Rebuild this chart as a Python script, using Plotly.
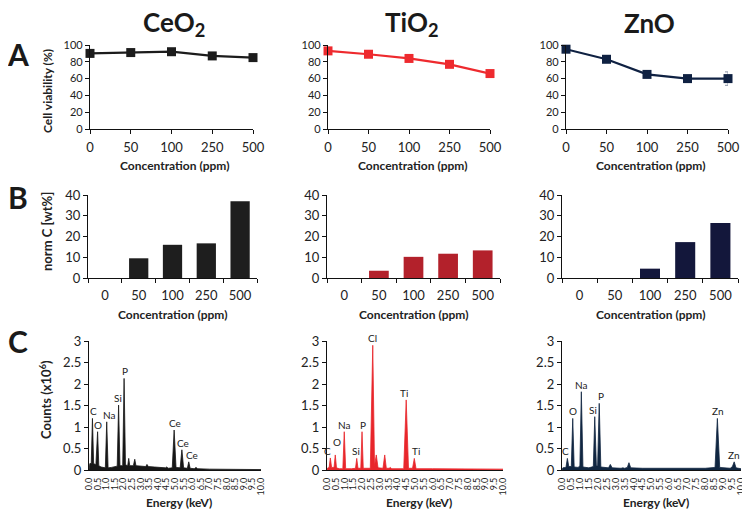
import plotly.graph_objects as go

# The page body has an 8px default margin, so the figure is sized to the remaining area
PAGE_W, PAGE_H, OFF = 750, 513, 8
W, H = PAGE_W - OFF, PAGE_H - OFF
FONT = "Lato"

# ---------------- data ----------------
concentrations = ["0", "50", "100", "250", "500"]
material_titles = ["CeO<sub>2</sub>", "TiO<sub>2</sub>", "ZnO"]

viability_ceo2 = [90, 91, 92, 87, 85]
viability_tio2 = [93, 89, 84, 77, 66]
viability_zno = [95, 83, 65, 60, 60]
viability_err_ceo2 = [4, 2, 2, 2, 2]
viability_err_tio2 = [2, 2, 2, 2, 2]
viability_err_zno = [3, 2, 3, 2, 8]

norm_c_ceo2 = [0, 9.5, 16, 16.7, 37]
norm_c_tio2 = [0, 3.5, 10.2, 11.7, 13.3]
norm_c_zno = [0, 0, 4.5, 17.3, 26.5]

viability_ticks = [0, 20, 40, 60, 80, 100]
normc_ticks = [0, 10, 20, 30, 40]
energy_tick_labels = ["0.0", "0.5", "1.0", "1.5", "2.0", "2.5", "3.0", "3.5", "4.0", "4.5",
                      "5.0", "5.5", "6.0", "6.5", "7.0", "7.5", "8.0", "8.5", "9.0", "9.5", "10.0"]
counts_tick_labels = ["0", "0.5", "1", "1.5", "2", "2.5", "3"]

eds_energy_ceo2 = [0.0, 0.05, 0.13, 0.2, 0.27, 0.4, 0.5, 0.57, 0.7, 0.95, 1.03, 1.11, 1.3, 1.64,
                   1.72, 1.8, 1.96, 2.04, 2.12, 2.25, 2.31, 2.37, 2.58, 2.66, 2.73, 3.0, 3.3, 3.37,
                   3.45, 3.8, 4.2, 4.45, 4.52, 4.6, 4.84, 4.95, 5.06, 5.3, 5.4, 5.5, 5.72, 5.8, 5.88,
                   6.12, 6.22, 6.32, 7.0, 8.0, 9.0, 10.0]
eds_counts_ceo2 = [0.0, 0.15, 0.15, 1.2, 0.15, 0.12, 0.89, 0.1, 0.07, 0.05, 1.12, 0.05, 0.06, 0.09,
                   1.51, 0.1, 0.1, 2.13, 0.12, 0.1, 0.27, 0.1, 0.1, 0.25, 0.1, 0.09, 0.08, 0.13,
                   0.08, 0.07, 0.06, 0.05, 0.07, 0.04, 0.05, 0.93, 0.06, 0.05, 0.47, 0.05, 0.04, 0.19,
                   0.04, 0.03, 0.06, 0.03, 0.02, 0.015, 0.015, 0.01]

eds_energy_tio2 = [0.0, 0.05, 0.12, 0.19, 0.26, 0.4, 0.47, 0.54, 0.7, 0.9, 0.98, 1.06, 1.4, 1.62,
                   1.69, 1.76, 1.92, 1.99, 2.06, 2.46, 2.6, 2.7, 2.8, 2.9, 3.18, 3.28, 3.37, 3.53,
                   3.6, 3.68, 4.36, 4.5, 4.63, 4.86, 4.96, 5.06, 6.0, 8.0, 10.0]
eds_counts_tio2 = [0.0, 0.05, 0.05, 0.28, 0.06, 0.06, 0.35, 0.05, 0.03, 0.03, 0.89, 0.03, 0.03, 0.04,
                   0.27, 0.04, 0.04, 0.89, 0.04, 0.04, 2.9, 0.1, 0.35, 0.05, 0.04, 0.35, 0.04, 0.04,
                   0.06, 0.03, 0.03, 1.63, 0.04, 0.04, 0.27, 0.03, 0.03, 0.025, 0.02]

eds_energy_zno = [0.0, 0.05, 0.22, 0.3, 0.38, 0.52, 0.6, 0.68, 0.9, 1.0, 1.08, 1.17, 1.5, 1.75,
                  1.83, 1.92, 1.99, 2.08, 2.17, 2.6, 2.7, 2.8, 3.3, 3.4, 3.5, 3.65, 3.74, 3.84,
                  4.5, 6.0, 8.0, 8.55, 8.68, 8.81, 9.4, 9.52, 9.62, 9.72, 10.0]
eds_counts_zno = [0.0, 0.05, 0.06, 0.27, 0.08, 0.08, 1.2, 0.07, 0.06, 0.1, 1.82, 0.07, 0.05, 0.08,
                  1.24, 0.1, 0.1, 1.55, 0.07, 0.05, 0.13, 0.05, 0.04, 0.05, 0.04, 0.06, 0.17, 0.05,
                  0.04, 0.04, 0.04, 0.06, 1.2, 0.06, 0.04, 0.08, 0.19, 0.05, 0.03]

peak_labels_ceo2 = ["C", "O", "Na", "Si", "P", "Ce", "Ce", "Ce"]
peak_energy_ceo2 = [0.2, 0.5, 1.03, 1.72, 2.04, 4.95, 5.4, 5.8]
peak_counts_ceo2 = [1.2, 0.89, 1.12, 1.51, 2.13, 0.93, 0.47, 0.19]

peak_labels_tio2 = ["C", "O", "Na", "Si", "P", "Cl", "Ti", "Ti"]
peak_energy_tio2 = [0.19, 0.47, 0.98, 1.69, 1.99, 2.6, 4.5, 4.96]
peak_counts_tio2 = [0.28, 0.35, 0.89, 0.27, 0.89, 2.9, 1.63, 0.27]

peak_labels_zno = ["C", "O", "Na", "Si", "P", "Zn", "Zn"]
peak_energy_zno = [0.3, 0.6, 1.08, 1.83, 2.08, 8.68, 9.62]
peak_counts_zno = [0.27, 1.2, 1.82, 1.24, 1.55, 1.2, 0.19]

# ---------------- styling ----------------
line_colors = ["#1c1c1c", "#ee2a2e", "#0f2142"]
bar_colors = ["#1e1e1e", "#b3212b", "#13173b"]
fill_colors = ["#161616", "#e8262b", "#102641"]
err_colors = ["#555555", "#ee2a2e", "#8a93a6"]

# label nudges in pixels (xshift, yshift) so neighbouring labels do not collide
label_nudge = [
    [(1, 0), (0, 0), (2, 0), (-1, 0), (1, 0), (1, 0), (1, 0), (3, 0)],
    [(-3, 0), (2, 6), (0, 0), (-1, 0), (1, 0), (0, 0), (-2, 0), (2, 0)],
    [(-2, 0), (0, 0), (0, 0), (-2, 0), (2, 0), (0, 0), (-1, 0)],
]

# page-pixel boxes (x0, x1), (ytop, ybottom)
boxA = [(90, 253), (328, 490), (566, 728)]
yA = (45, 129)
boxB = [(88, 257), (327, 500), (562, 738)]
yB = (195, 278)
boxC = [(89, 261), (327, 503), (562, 741)]
yC = (341, 470)


def px(x):
    return (x - OFF) / W


def py(y):
    return 1 - (y - OFF) / H


fig = go.Figure()
layout = {}
ann = []
TXT = "#222222"


def paper_text(text, x, y, size, angle=0, color=TXT):
    ann.append(dict(text=text, x=px(x), y=py(y), xref="paper", yref="paper", showarrow=False,
                    xanchor="center", yanchor="middle", textangle=angle, borderpad=0,
                    font=dict(family=FONT, size=size, color=color)))


AX = dict(showgrid=False, zeroline=False, showline=True, linecolor="#111111", linewidth=1.3,
          ticks="outside", ticklen=4, tickcolor="#111111", tickwidth=1.1, automargin=False,
          tickfont=dict(family=FONT, size=13, color=TXT))

viab = [viability_ceo2, viability_tio2, viability_zno]
viab_err = [viability_err_ceo2, viability_err_tio2, viability_err_zno]
normc = [norm_c_ceo2, norm_c_tio2, norm_c_zno]
eds_e = [eds_energy_ceo2, eds_energy_tio2, eds_energy_zno]
eds_c = [eds_counts_ceo2, eds_counts_tio2, eds_counts_zno]
pk_lab = [peak_labels_ceo2, peak_labels_tio2, peak_labels_zno]
pk_e = [peak_energy_ceo2, peak_energy_tio2, peak_energy_zno]
pk_c = [peak_counts_ceo2, peak_counts_tio2, peak_counts_zno]

energy_tick_vals = [float(t) for t in energy_tick_labels]
counts_tick_vals = [float(t) for t in counts_tick_labels]

for i in range(3):
    # ----- row A -----
    n = i + 1
    xa, ya = f"x{n}", f"y{n}"
    fig.add_trace(go.Scatter(
        x=concentrations, y=viab[i], mode="lines+markers", xaxis=xa, yaxis=ya,
        line=dict(color=line_colors[i], width=2.2),
        marker=dict(symbol="square", size=9, color=line_colors[i]),
        error_y=dict(type="data", array=viab_err[i], color=err_colors[i], thickness=1, width=3),
        cliponaxis=False, showlegend=False))
    layout[f"xaxis{n}"] = dict(AX, domain=[px(boxA[i][0]), px(boxA[i][1])], anchor=ya,
                               type="category", range=[0, 4], ticklabelstandoff=2)
    layout[f"yaxis{n}"] = dict(AX, domain=[py(yA[1]), py(yA[0])], anchor=xa,
                               range=[0, 100], tickvals=viability_ticks,
                               tickfont=dict(family=FONT, size=11, color=TXT))
    paper_text("<b>Concentration (ppm)</b>", (boxA[i][0] + boxA[i][1]) / 2 + 3, 165, 12)
    paper_text("<b>" + material_titles[i] + "</b>", (boxA[i][0] + boxA[i][1]) / 2 + 2, 23, 26,
               color="#1a1a1a")

    # ----- row B -----
    n = i + 4
    xa, ya = f"x{n}", f"y{n}"
    fig.add_trace(go.Bar(x=concentrations, y=normc[i], xaxis=xa, yaxis=ya,
                         marker=dict(color=bar_colors[i], line=dict(width=0)),
                         width=0.57, showlegend=False))
    layout[f"xaxis{n}"] = dict(AX, domain=[px(boxB[i][0]), px(boxB[i][1])], anchor=ya,
                               type="category", range=[-0.5, 4.5], tickson="boundaries",
                               ticklabelstandoff=5)
    layout[f"yaxis{n}"] = dict(AX, domain=[py(yB[1]), py(yB[0])], anchor=xa,
                               range=[0, 40], tickvals=normc_ticks,
                               tickfont=dict(family=FONT, size=13, color=TXT))
    paper_text("<b>Concentration (ppm)</b>", (boxB[i][0] + boxB[i][1]) / 2, 314, 12)

    # ----- row C -----
    n = i + 7
    xa, ya = f"x{n}", f"y{n}"
    fig.add_trace(go.Scatter(x=eds_e[i], y=eds_c[i], mode="lines", fill="tozeroy",
                             xaxis=xa, yaxis=ya, line=dict(color=fill_colors[i], width=0.8),
                             fillcolor=fill_colors[i], showlegend=False))
    layout[f"xaxis{n}"] = dict(AX, domain=[px(boxC[i][0]), px(boxC[i][1])], anchor=ya,
                               range=[0, 10], tickvals=energy_tick_vals, ticktext=energy_tick_labels,
                               tickangle=-90, ticks="", ticklabelstandoff=3,
                               tickfont=dict(family=FONT, size=9, color=TXT))
    layout[f"yaxis{n}"] = dict(AX, domain=[py(yC[1]), py(yC[0])], anchor=xa,
                               range=[0, 3], tickvals=counts_tick_vals, ticktext=counts_tick_labels,
                               tickfont=dict(family=FONT, size=13, color=TXT))
    paper_text("<b>Energy (keV)</b>", (boxC[i][0] + boxC[i][1]) / 2 + 4, 502, 12)
    for lab, e, c, (dx, dy) in zip(pk_lab[i], pk_e[i], pk_c[i], label_nudge[i]):
        ann.append(dict(text=lab, x=e, y=c, xref=xa, yref=ya, showarrow=False,
                        xanchor="center", yanchor="bottom", xshift=dx, yshift=dy - 1,
                        font=dict(family=FONT, size=10, color=TXT)))

# y-axis titles (first column only)
paper_text("<b>Cell viability (%)</b>", 47, 91, 12, angle=-90)
paper_text("<b>norm C [wt%]</b>", 47, 232, 13, angle=-90)
paper_text("<b>Counts (x10<sup>6</sup>)</b>", 45, 400, 13, angle=-90)

# panel letters
for letter, (lx, ly) in zip(["A", "B", "C"], [(18, 54), (18, 197), (18, 341)]):
    paper_text("<b>" + letter + "</b>", lx, ly, 30, color="#1a1a1a")

fig.update_layout(**layout)
fig.update_layout(width=W, height=H, margin=dict(l=0, r=0, t=0, b=0, autoexpand=False),
                  paper_bgcolor="white", plot_bgcolor="white", annotations=ann,
                  bargap=0.43, font=dict(family=FONT))

fig.write_html("out.html")
